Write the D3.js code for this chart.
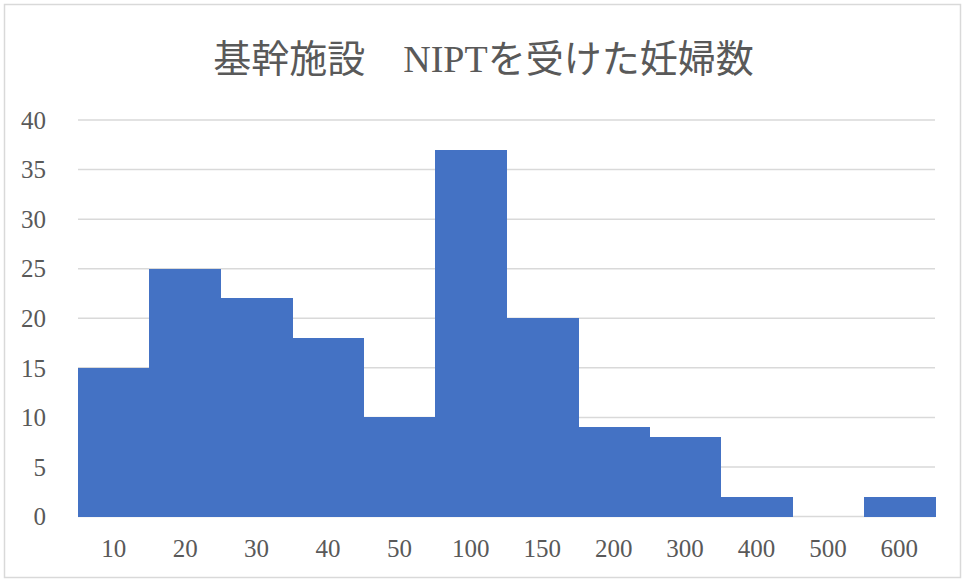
<!DOCTYPE html>
<html>
<head>
<meta charset="utf-8">
<script src="https://cdn.jsdelivr.net/npm/d3@7"></script>
<style>
  body { margin: 0; background: #fff; }
  text { font-family: "Liberation Serif", "DejaVu Serif", "Noto Sans CJK JP", serif; fill: #595959; }
</style>
</head>
<body>
<div id="chart"></div>
<script>
// data
const categories = ["10", "20", "30", "40", "50", "100", "150", "200", "300", "400", "500", "600"];
const counts = [15, 25, 22, 18, 10, 37, 20, 9, 8, 2, 0, 2];
const yTicks = [0, 5, 10, 15, 20, 25, 30, 35, 40];
const title = "基幹施設\u3000NIPTを受けた妊婦数";

const width = 965, height = 580;
const margin = { top: 120, right: 30, bottom: 63, left: 78 };

const svg = d3.select("#chart").append("svg")
  .attr("width", width)
  .attr("height", height);

// outer chart border
svg.append("rect")
  .attr("x", 4.5).attr("y", 4.5)
  .attr("width", width - 9).attr("height", height - 7)
  .attr("fill", "#fff")
  .attr("stroke", "#d9d9d9")
  .attr("stroke-width", 1.5);

let x = d3.scaleBand()
  .domain(categories)
  .range([margin.left, width - margin.right])
  .padding(0);

let y = d3.scaleLinear()
  .domain([0, 40])
  .range([height - margin.bottom - 0.5, margin.top]);

// gridlines
svg.append("g")
  .selectAll("line")
  .data(yTicks)
  .enter().append("line")
  .attr("x1", margin.left)
  .attr("x2", width - margin.right)
  .attr("y1", d => y(d))
  .attr("y2", d => y(d))
  .attr("stroke", "#d9d9d9")
  .attr("stroke-width", 1.5);

// bars (no gap between them)
svg.append("g")
  .attr("shape-rendering", "crispEdges")
  .selectAll("rect")
  .data(counts)
  .enter().append("rect")
  .attr("x", (d, i) => Math.round(x(categories[i])))
  .attr("y", d => y(d))
  .attr("width", x.bandwidth() + 1)
  .attr("height", d => y(0) - y(d))
  .attr("fill", "#4472c4");

// y axis labels
svg.append("g")
  .selectAll("text")
  .data(yTicks)
  .enter().append("text")
  .attr("x", 46)
  .attr("y", d => y(d))
  .attr("dy", "0.35em")
  .attr("text-anchor", "end")
  .style("font-size", "25px")
  .text(d => d);

// x axis labels
svg.append("g")
  .selectAll("text")
  .data(categories)
  .enter().append("text")
  .attr("x", d => x(d) + x.bandwidth() / 2)
  .attr("y", height - margin.bottom + 40)
  .attr("text-anchor", "middle")
  .style("font-size", "25px")
  .text(d => d);

// title
svg.append("text")
  .attr("x", width / 2 + 1)
  .attr("y", 72)
  .attr("text-anchor", "middle")
  .style("font-size", "38px")
  .text(title);
</script>
</body>
</html>
